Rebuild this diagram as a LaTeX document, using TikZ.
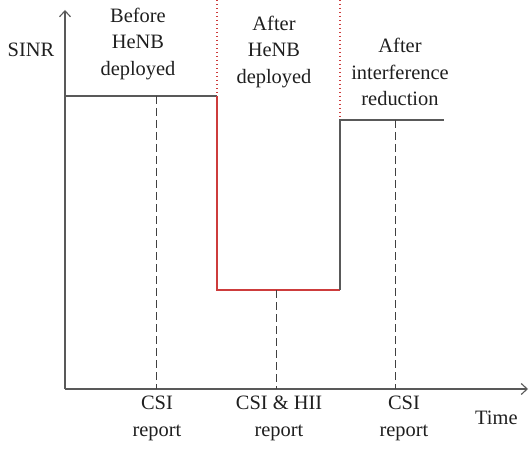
\documentclass[tikz,border=0pt]{standalone}
\usepackage{fontspec}
\setmainfont{Liberation Serif}
\usetikzlibrary{arrows.meta}
\definecolor{linegray}{gray}{.35}
\definecolor{dashgray}{gray}{.25}
\definecolor{textgray}{gray}{.12}
\definecolor{stepred}{RGB}{205,60,60}

\begin{document}
\begin{tikzpicture}[x=1bp,y=-1bp,
  font=\fontsize{20.5}{27}\selectfont, text=textgray,
  lbl/.style={align=center, inner sep=0pt},
  level/.style={draw=linegray, line width=1.1bp},
  report/.style={draw=dashgray, line width=1bp, dash pattern=on 8bp off 4bp},
  border/.style={draw=stepred, line width=1.4bp, dash pattern=on 1.4bp off 2.6bp}]
  \useasboundingbox (0,0) rectangle (530,449);
  % axes
  \coordinate (O) at (65,389);
  \coordinate (ytip) at (65,10);
  \coordinate (xtip) at (528,389);
  \draw[linegray, line width=1.1bp, -{Straight Barb[length=6bp,width=11bp]}] (O) -- (ytip);
  \draw[linegray, line width=1.1bp, -{Straight Barb[length=6bp,width=11bp]}] (O) -- (xtip);
  \node[lbl] (sinr) at (31,50) {SINR};
  \node[lbl, anchor=west] (time) at (475,418) {Time};
  % SINR levels
  \coordinate (a0) at (65,96);
  \coordinate (a1) at (217,96);
  \coordinate (b0) at (217,290);
  \coordinate (b1) at (340,290);
  \coordinate (c0) at (340,120);
  \coordinate (c1) at (444,120);
  \draw[level] (a0) -- (a1);
  \draw[stepred, line width=1.1bp] (a1) -- (b0) -- (b1);
  \draw[level] (b1) -- (c0) -- (c1);
  % phase borders
  \coordinate (t1) at (217,0);
  \coordinate (t2) at (340,0);
  \draw[border] (t1) -- (a1);
  \draw[border] (t2) -- (c0);
  % reports
  \coordinate (r1) at (156,96);
  \coordinate (r2) at (276,290);
  \coordinate (r3) at (395,120);
  \draw[report] (r1) -- (r1 |- O);
  \draw[report] (r2) -- (r2 |- O);
  \draw[report] (r3) -- (r3 |- O);
  % phase labels
  \node[lbl] (before) at (138,44) {Before\\HeNB\\deployed};
  \node[lbl] (after) at (274,52) {After\\HeNB\\deployed};
  \node[lbl] (reduce) at (400,72) {After\\interference\\reduction};
  % report labels
  \node[lbl] (csi1) at (157,418) {CSI\\report};
  \node[lbl] (csi2) at (279,418) {CSI \& HII\\report};
  \node[lbl] (csi3) at (404,418) {CSI\\report};
\end{tikzpicture}
\end{document}
